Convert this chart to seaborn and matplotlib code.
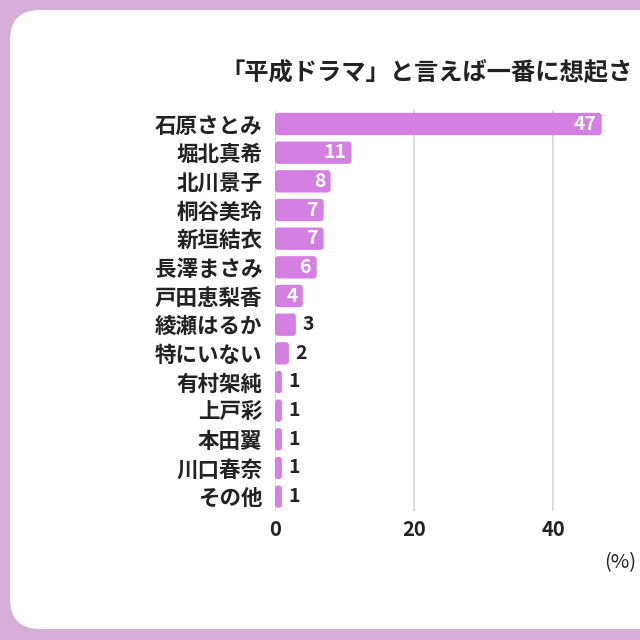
import matplotlib
matplotlib.use("Agg")
import matplotlib.pyplot as plt
from matplotlib.patches import FancyBboxPatch
import pandas as pd
import seaborn as sns

# data
names = ["石原さとみ", "堀北真希", "北川景子", "桐谷美玲", "新垣結衣", "長澤まさみ", "戸田恵梨香",
         "綾瀬はるか", "特にいない", "有村架純", "上戸彩", "本田翼", "川口春奈", "その他"]
percent = [47, 11, 8, 7, 7, 6, 4, 3, 2, 1, 1, 1, 1, 1]
x_ticks = [0, 20, 40]
# the reference is cropped, only this much of the title is visible
title = "「平成ドラマ」と言えば一番に想起さ"

bg_color = "#d6aed9"
bar_color = "#d47fe2"

sns.set_theme(style="white")
plt.rcParams["font.family"] = ["Noto Sans CJK JP", "DejaVu Sans"]

df = pd.DataFrame({"name": names, "percent": percent})

fig = plt.figure(figsize=(6.4, 6.4), dpi=100)
fig.patch.set_facecolor(bg_color)

# white rounded card, runs off the right edge like the reference crop
card = FancyBboxPatch((10 / 640, 11 / 640), 700 / 640, 619 / 640,
                      boxstyle="round,pad=0,rounding_size=0.047",
                      transform=fig.transFigure, facecolor="white", edgecolor="none", zorder=-5)
fig.patches.append(card)

ax = fig.add_axes([275 / 640, 0.2016, 417 / 640, 0.627])
ax.set_zorder(2)
ax.set_facecolor("none")
sns.barplot(data=df, x="percent", y="name", color=bar_color, saturation=1, width=0.78, ax=ax, zorder=3)

# swap plain rectangles for slightly rounded ones
aspect = (1 / 28.7) / (1 / 6.95)
for p in list(ax.patches):
    x0, y0, w, h = p.get_x(), p.get_y(), p.get_width(), p.get_height()
    p.remove()
    ax.add_patch(FancyBboxPatch((x0, y0), w, h,
                                boxstyle="round,pad=0,rounding_size=0.45",
                                mutation_aspect=aspect, facecolor=bar_color,
                                edgecolor="none", zorder=3))

ax.set_xlim(0, 60)
ax.set_ylim(len(names) - 0.5, -0.5)
ax.set_xticks(x_ticks)
ax.set_xlabel("")
ax.set_ylabel("")
ax.grid(axis="x", color="#d9d9d9", linewidth=1.3, zorder=0)
ax.grid(axis="y", visible=False)
for s in ax.spines.values():
    s.set_visible(False)
ax.tick_params(axis="y", length=0, pad=9, labelsize=15.5)
ax.tick_params(axis="x", length=0, pad=6, labelsize=14.5)
for lbl in ax.get_yticklabels():
    lbl.set_fontweight("bold")
    lbl.set_color("#222222")
for lbl in ax.get_xticklabels():
    lbl.set_fontweight("bold")
    lbl.set_color("#222222")

for i, v in enumerate(percent):
    if v >= 4:
        ax.text(v - 0.7, i, str(v), ha="right", va="center", color="white",
                fontsize=14, fontweight="bold", zorder=4)
    else:
        ax.text(v + 0.9, i, str(v), ha="left", va="center", color="#222222",
                fontsize=14, fontweight="bold", zorder=4)

fig.text(220 / 640, 1 - 73 / 640, title, ha="left", va="center",
         fontsize=17.5, fontweight="bold", color="#222222")
fig.text(604 / 640, 1 - 563 / 640, "(%)", ha="left", va="center",
         fontsize=14.5, color="#222222")

fig.savefig("out.png", dpi=100, facecolor=bg_color)
